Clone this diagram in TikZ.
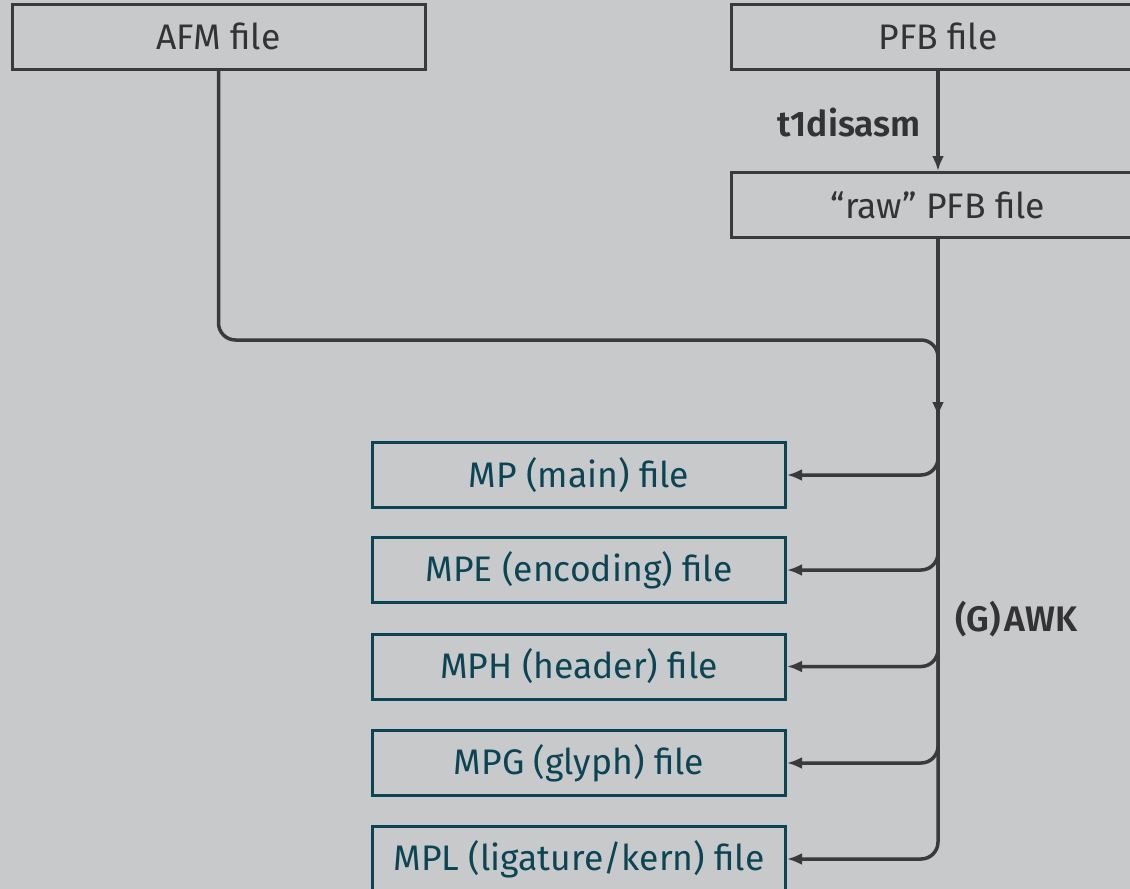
\documentclass[tikz,border=0pt]{standalone}
\usepackage{fontspec}
\setmainfont{Fira Sans}[BoldFont={Fira Sans SemiBold}]
\usetikzlibrary{arrows.meta}
\definecolor{bg}{HTML}{C8C9CB}
\definecolor{linegray}{HTML}{3A3A3D}
\definecolor{txtgray}{HTML}{333336}
\definecolor{tealc}{HTML}{0B4555}
\begin{document}
\begin{tikzpicture}[x=1pt,y=-1pt,
  box/.style={draw=linegray, line width=3pt, minimum width=413pt, minimum height=65pt, inner sep=0pt, text=txtgray, font=\fontsize{35.5}{40}\selectfont},
  outbox/.style={box, draw=tealc, text=tealc},
  conn/.style={draw=linegray, line width=3.5pt, rounded corners=17pt},
  arr/.style={conn, -{Latex[length=15pt,width=12pt]}},
  lbl/.style={text=txtgray, font=\fontsize{35.5}{40}\selectfont\bfseries, inner sep=0pt}]
\fill[bg] (0,0) rectangle (1130,889);
\useasboundingbox (0,0) rectangle (1130,889);

\node[box] (afm) at (218.5,36.5) {AFM file};
\node[box] (pfb) at (938,36.5) {PFB file};
\node[box] (raw) at (938,205) {“raw” PFB file};

\node[outbox] (mp)  at (579,475) {MP (main) file};
\node[outbox] (mpe) at (579,570) {MPE (encoding) file};
\node[outbox] (mph) at (579,666.5) {MPH (header) file};
\node[outbox] (mpg) at (579,763) {MPG (glyph) file};
\node[outbox] (mpl) at (579,859) {MPL (ligature/kern) file};

\draw[arr] (pfb.south) -- (raw.north);
\node[lbl, anchor=base east] (t1) at (921,136) {t1disasm};

\coordinate (j) at (938,340);
\coordinate (m) at (938,417);
\draw[arr] (afm.south) |- (j) -- (m);

\foreach \n in {mp,mpe,mph,mpg,mpl}
  \draw[arr] (raw.south) |- (\n.east);

\node[lbl, anchor=base west] (awk) at (955,631) {(G)\kern4pt AWK};
\end{tikzpicture}
\end{document}
